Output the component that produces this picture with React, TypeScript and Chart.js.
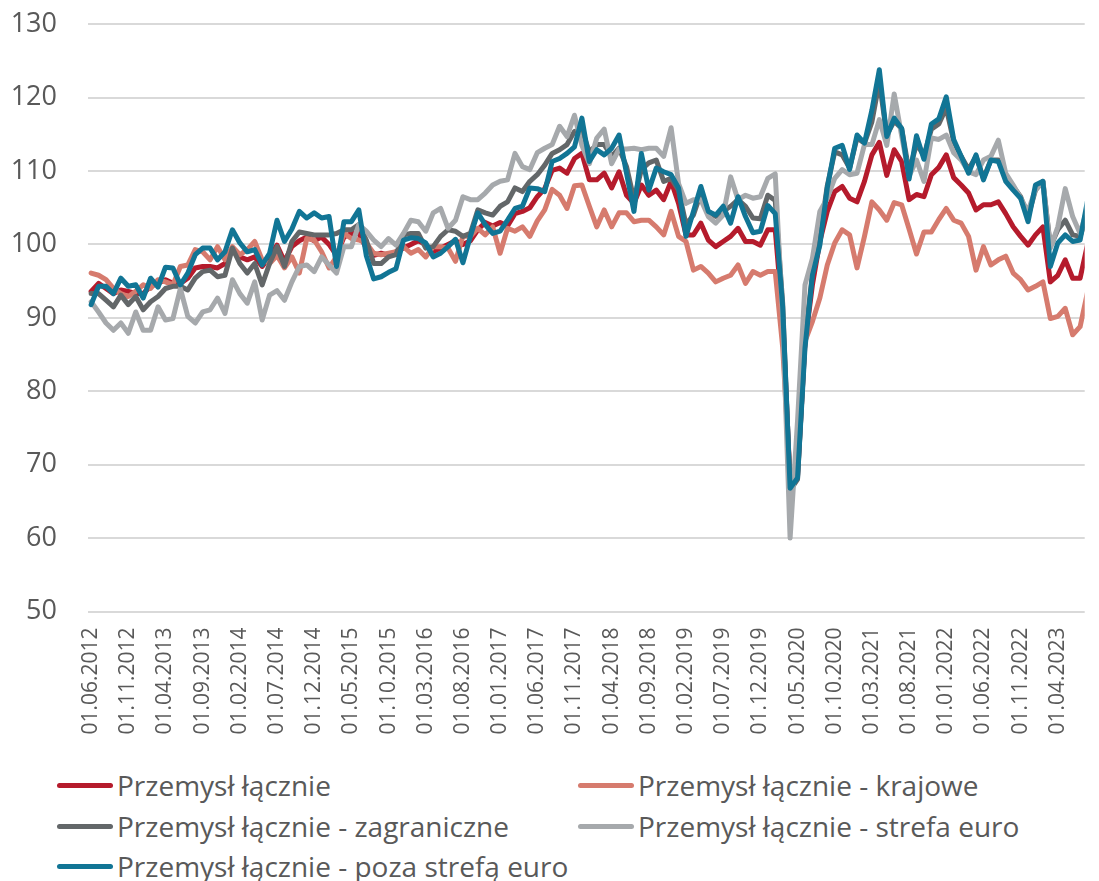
import React, { useEffect, useRef } from "react";
import { Chart, registerables } from "chart.js";

Chart.register(...registerables);

// x-axis tick labels (every 5th month, starting 01.06.2012)
const tickLabels = [
  "01.06.2012", "01.11.2012", "01.04.2013", "01.09.2013", "01.02.2014", "01.07.2014",
  "01.12.2014", "01.05.2015", "01.10.2015", "01.03.2016", "01.08.2016", "01.01.2017",
  "01.06.2017", "01.11.2017", "01.04.2018", "01.09.2018", "01.02.2019", "01.07.2019",
  "01.12.2019", "01.05.2020", "01.10.2020", "01.03.2021", "01.08.2021", "01.01.2022",
  "01.06.2022", "01.11.2022", "01.04.2023",
];

// monthly values, 06.2012 .. 08.2023
const przemyslLacznie = [
  93.6, 94.7, 94.0, 93.3, 93.8, 93.6, 93.3, 93.3, 94.3, 94.7,
  95.2, 94.7, 94.7, 95.4, 96.8, 97.0, 97.0, 96.8, 97.4, 99.5,
  98.3, 97.9, 98.3, 97.0, 98.3, 99.9, 97.7, 99.7, 100.5, 101.0,
  100.5, 101.0, 100.0, 98.5, 101.0, 101.5, 101.5, 99.5, 98.5, 98.8,
  98.5, 99.0, 99.5, 100.0, 100.5, 100.0, 99.0, 99.5, 100.0, 100.5,
  100.0, 100.5, 102.0, 103.0, 102.5, 103.0, 102.5, 104.2, 104.5, 105.0,
  106.5, 107.6, 110.1, 110.4, 109.7, 111.7, 112.4, 108.8, 108.8, 109.7,
  107.7, 109.9, 106.7, 105.6, 108.1, 106.7, 107.4, 106.1, 108.6, 105.6,
  101.3, 101.3, 102.9, 100.6, 99.7, 100.4, 101.1, 102.2, 100.4, 100.4,
  99.9, 102.0, 102.0, 90.0, 67.5, 68.5, 86.5, 94.5, 100.4, 104.5,
  107.2, 107.9, 106.3, 105.8, 108.6, 112.2, 113.9, 109.4, 112.9, 111.3,
  106.1, 106.8, 106.5, 109.5, 110.5, 112.2, 109.1, 108.1, 107.0, 104.7,
  105.4, 105.4, 105.8, 104.2, 102.4, 101.1, 99.9, 101.3, 102.4, 94.9,
  95.8, 97.9, 95.4, 95.4, 100.0,
];

const przemyslKrajowe = [
  96.1, 95.8, 95.2, 94.0, 93.3, 92.9, 93.6, 94.5, 94.0, 95.2,
  94.9, 94.5, 97.0, 97.2, 99.3, 99.0, 97.9, 99.7, 97.9, 99.7,
  98.6, 99.3, 100.4, 97.9, 97.4, 98.5, 96.8, 98.3, 96.1, 100.8,
  100.6, 99.0, 96.8, 98.3, 101.5, 100.8, 100.6, 100.2, 98.8, 98.6,
  98.8, 99.0, 99.7, 98.8, 99.3, 98.3, 99.7, 99.7, 99.5, 97.7,
  101.1, 101.1, 102.2, 101.3, 102.4, 98.8, 102.2, 101.8, 102.4, 101.1,
  103.2, 104.7, 107.5, 106.7, 104.9, 108.0, 108.1, 105.2, 102.4, 104.7,
  102.4, 104.3, 104.3, 103.1, 103.3, 103.3, 102.4, 101.3, 104.5, 101.1,
  100.4, 96.5, 97.0, 96.1, 94.9, 95.4, 95.8, 97.2, 94.7, 96.3,
  95.8, 96.3, 96.3, 86.0, 68.0, 70.0, 86.8, 89.5, 92.7, 97.2,
  100.2, 102.0, 101.3, 96.8, 101.1, 105.8, 104.7, 103.3, 105.7, 105.4,
  102.1, 98.7, 101.7, 101.7, 103.4, 104.9, 103.3, 102.9, 101.1, 96.5,
  99.7, 97.2, 97.9, 98.4, 96.1, 95.2, 93.8, 94.3, 94.9, 89.9,
  90.2, 91.3, 87.7, 88.8, 93.5,
];

const przemyslZagraniczne = [
  93.3, 93.3, 92.4, 91.5, 93.1, 91.8, 92.9, 91.1, 92.2, 92.9,
  94.0, 94.3, 94.3, 93.8, 95.4, 96.3, 96.5, 95.6, 95.8, 99.5,
  97.4, 96.1, 97.4, 94.5, 97.4, 99.7, 97.0, 100.4, 101.7, 101.5,
  101.3, 101.3, 101.3, 101.5, 102.0, 102.0, 102.7, 100.6, 97.4, 97.4,
  98.3, 98.6, 101.3, 101.5, 101.5, 99.5, 99.7, 101.1, 102.0, 101.8,
  101.1, 101.5, 104.7, 104.3, 104.0, 105.2, 105.8, 107.7, 107.2, 108.6,
  109.5, 110.8, 112.4, 112.9, 113.6, 115.4, 115.6, 112.6, 113.6, 113.6,
  112.0, 113.1, 110.6, 106.1, 110.2, 111.1, 111.5, 108.6, 109.0, 107.4,
  102.7, 104.0, 107.0, 104.5, 103.8, 104.5, 105.2, 106.1, 105.2, 103.6,
  103.5, 106.7, 106.0, 92.0, 66.5, 68.0, 87.0, 96.0, 101.0, 108.0,
  112.6, 112.2, 110.4, 114.5, 113.8, 116.7, 122.2, 114.9, 116.8, 115.8,
  109.9, 113.7, 112.1, 115.7, 116.4, 118.6, 114.0, 112.0, 110.2, 112.0,
  109.0, 111.5, 111.5, 109.2, 107.9, 106.5, 103.8, 107.4, 108.6, 99.7,
  102.0, 103.3, 101.3, 101.1, 104.0,
];

const przemyslStrefaEuro = [
  92.2, 90.8, 89.3, 88.3, 89.3, 87.9, 90.8, 88.3, 88.3, 91.5,
  89.7, 89.9, 94.0, 90.2, 89.3, 90.8, 91.1, 92.7, 90.6, 95.2,
  93.3, 92.0, 94.9, 89.7, 93.1, 93.7, 92.4, 94.9, 97.0, 97.2,
  96.3, 98.3, 97.2, 96.1, 99.7, 99.7, 102.7, 101.8, 100.6, 99.7,
  100.8, 99.9, 101.5, 103.3, 103.1, 101.8, 104.3, 104.9, 102.2, 103.3,
  106.5, 106.1, 106.1, 107.0, 108.1, 108.6, 108.8, 112.4, 110.6, 110.2,
  112.5, 113.1, 113.6, 116.1, 114.7, 117.6, 113.5, 111.0, 114.5, 115.7,
  111.0, 113.0, 113.0, 113.1, 112.9, 113.1, 113.1, 112.0, 115.9, 108.3,
  105.6, 106.1, 106.1, 103.8, 102.9, 104.0, 109.2, 106.1, 106.7, 106.3,
  106.5, 109.0, 109.6, 90.0, 60.0, 76.0, 94.5, 98.1, 104.5, 106.3,
  109.0, 110.2, 109.5, 109.7, 113.6, 113.6, 117.0, 113.5, 120.5, 114.8,
  109.3, 111.5, 108.6, 114.5, 114.3, 114.9, 112.5, 111.5, 109.9, 109.5,
  111.5, 112.0, 114.2, 109.7, 108.1, 106.3, 104.5, 107.5, 108.5, 99.5,
  102.4, 107.6, 103.8, 101.5, 105.0,
];

const przemyslPozaStrefa = [
  91.8, 94.3, 94.3, 93.3, 95.4, 94.3, 94.5, 92.7, 95.4, 94.2,
  96.9, 96.8, 94.5, 96.1, 98.6, 99.5, 99.5, 97.9, 99.0, 102.0,
  100.2, 99.0, 99.3, 97.2, 98.8, 103.3, 100.4, 102.1, 104.5, 103.6,
  104.3, 103.6, 103.8, 97.0, 103.1, 103.1, 104.7, 98.5, 95.3, 95.6,
  96.2, 96.7, 100.6, 100.9, 100.8, 100.2, 98.3, 98.8, 99.7, 100.7,
  97.5, 101.1, 104.3, 102.7, 101.5, 101.8, 103.3, 104.9, 105.2, 107.7,
  107.6, 107.2, 111.3, 111.7, 112.4, 113.3, 117.2, 111.3, 112.9, 112.2,
  113.1, 114.9, 109.7, 104.5, 112.4, 107.4, 110.4, 109.9, 109.5, 107.7,
  101.1, 104.5, 107.9, 104.5, 104.0, 105.2, 102.9, 106.5, 103.8, 101.6,
  101.8, 105.3, 104.2, 91.5, 66.8, 68.2, 85.9, 95.8, 99.9, 107.7,
  113.1, 113.5, 110.2, 114.9, 113.8, 118.3, 123.8, 114.7, 117.2, 115.8,
  108.9, 114.8, 111.6, 116.4, 117.1, 120.1, 114.3, 112.0, 109.7, 112.2,
  108.8, 111.5, 111.3, 108.6, 107.4, 106.3, 103.1, 108.1, 108.6, 97.0,
  100.2, 101.3, 100.4, 100.6, 106.0,
];

const seriesNames = [
  "Przemysł łącznie",
  "Przemysł łącznie - krajowe",
  "Przemysł łącznie - zagraniczne",
  "Przemysł łącznie - strefa euro",
  "Przemysł łącznie - poza strefą euro",
];
const seriesColors = ["#B51B2C", "#D67B6E", "#636769", "#A6A9AC", "#117595"];
const seriesData = [
  przemyslLacznie,
  przemyslKrajowe,
  przemyslZagraniczne,
  przemyslStrefaEuro,
  przemyslPozaStrefa,
];

const FONT = "'Open Sans', 'Noto Sans', sans-serif";
const TEXT = "#595959";

// legend placement (column x of line start, row y of centre)
const legendCols = [57, 578];
const legendRows = [785, 826, 866];

export default function App() {
  const ref = useRef<HTMLCanvasElement>(null);

  useEffect(() => {
    const canvas = ref.current;
    if (!canvas) return;
    const chart = new Chart(canvas, {
      type: "line",
      data: {
        datasets: seriesData.map((arr, s) => ({
          label: seriesNames[s],
          data: arr.map((v, i) => ({ x: i, y: v })),
          borderColor: seriesColors[s],
          backgroundColor: seriesColors[s],
          borderWidth: 5,
          pointRadius: 0,
          pointHoverRadius: 0,
          tension: 0,
          borderJoinStyle: "round",
          borderCapStyle: "round",
          fill: false,
          order: seriesData.length - s,
        })),
      },
      options: {
        responsive: false,
        animation: false,
        events: [],
        layout: { padding: 0 },
        plugins: {
          legend: { display: false },
          tooltip: { enabled: false },
        },
        scales: {
          x: {
            type: "linear",
            min: -0.42,
            max: 133.62,
            afterBuildTicks: (scale: any) => {
              scale.ticks = tickLabels.map((_, k) => ({ value: k * 5 }));
            },
            afterFit: (scale: any) => {
              scale.height = 133.5;
            },
            grid: { display: false, drawTicks: false },
            border: { display: false },
            ticks: {
              autoSkip: false,
              maxRotation: 90,
              minRotation: 90,
              padding: 16,
              color: TEXT,
              font: { family: FONT, size: 21 },
              callback: (v: any) => tickLabels[Math.round(Number(v) / 5)] ?? "",
            },
          },
          y: {
            min: 50,
            max: 130,
            afterFit: (scale: any) => {
              scale.width = 88;
            },
            ticks: {
              stepSize: 10,
              padding: 31,
              color: TEXT,
              font: { family: FONT, size: 27 },
            },
            grid: { color: "#D9D9D9", lineWidth: 2, drawTicks: false },
            border: { display: false },
          },
        },
      },
    });
    return () => chart.destroy();
  }, []);

  return (
    <div
      style={{
        position: "absolute",
        left: 0,
        top: 0,
        width: 1099,
        height: 881,
        overflow: "hidden",
        background: "#fff",
        fontFamily: FONT,
      }}
    >
      <canvas
        ref={ref}
        width={1099}
        height={768}
        style={{ display: "block", position: "absolute", left: 0, top: -23 }}
      />
      {seriesNames.map((name, s) => {
        const col = s % 2;
        const row = Math.floor(s / 2);
        return (
          <div
            key={name}
            style={{
              position: "absolute",
              left: legendCols[col],
              top: legendRows[row] - 20,
              height: 40,
              display: "flex",
              alignItems: "center",
              whiteSpace: "nowrap",
            }}
          >
            <div
              style={{
                width: 56,
                height: 5,
                borderRadius: 3,
                background: seriesColors[s],
                marginRight: 4,
              }}
            />
            <span style={{ fontSize: 28, color: TEXT, lineHeight: "40px" }}>{name}</span>
          </div>
        );
      })}
    </div>
  );
}
